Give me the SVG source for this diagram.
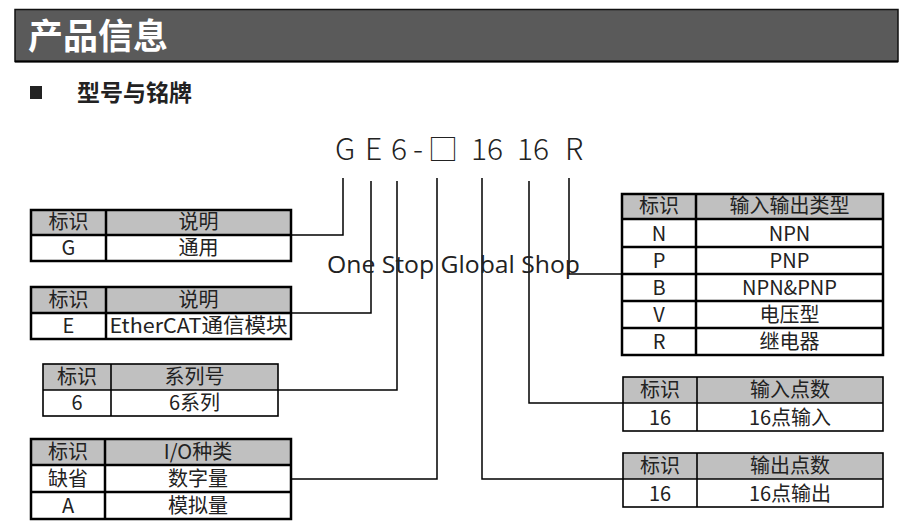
<svg xmlns="http://www.w3.org/2000/svg" width="909" height="526" viewBox="0 0 909 526">
<style>
.t{font-family:"Noto Sans CJK SC","Noto Sans",sans-serif;font-size:20px;fill:#222;text-anchor:middle}
.hd{fill:#c0c0c0}
.bd{fill:#fff}
.thick{fill:none;stroke:#000;stroke-width:2.5}
.thin{fill:none;stroke:#000;stroke-width:1.6}
.conn{fill:none;stroke:#000;stroke-width:1.5}
.model{font-family:"Noto Sans CJK SC","Noto Sans",sans-serif;font-size:30px;fill:#222;font-weight:300}
</style>
<rect width="909" height="526" fill="#fff"/>
<g id="title">
<rect x="15" y="9.5" width="883" height="52" fill="#5a5a5a" stroke="#111" stroke-width="1.5"/>
<line x1="15" y1="61.5" x2="898" y2="61.5" stroke="#000" stroke-width="2"/>
<text x="28" y="49" font-family="Noto Sans CJK SC,sans-serif" font-size="35" font-weight="bold" fill="#fff">产品信息</text>
</g>
<g id="subtitle">
<rect x="30" y="86" width="12" height="13" fill="#222"/>
<text x="77" y="101" font-family="Noto Sans CJK SC,sans-serif" font-size="23" font-weight="bold" fill="#222">型号与铭牌</text>
</g>
<g id="model">
<text class="model" y="160"><tspan x="335">G</tspan><tspan x="365">E</tspan><tspan x="391">6</tspan><tspan x="413">-</tspan><tspan x="428">□</tspan><tspan x="471">16</tspan><tspan x="517">16</tspan><tspan x="565">R</tspan></text>
</g>
<g id="connectors">
<polyline class="conn" points="343,178 343,235 291,235"/>
<polyline class="conn" points="371,181 371,313 291,313"/>
<polyline class="conn" points="397,181 397,390 278,390"/>
<polyline class="conn" points="437,178 437,479 291,479"/>
<polyline class="conn" points="482,178 482,479 623,479"/>
<polyline class="conn" points="529,181 529,403 623,403"/>
<polyline class="conn" points="569,178 569,274 622,274"/>
</g>
<g id="table-g">
<rect class="hd" x="31" y="210" width="260" height="25"/>
<rect class="bd" x="31" y="235" width="260" height="26"/>
<rect class="thick" x="31" y="210" width="260" height="51"/>
<line class="thick" x1="31" y1="235" x2="291" y2="235"/>
<line class="thick" x1="106" y1="210" x2="106" y2="261"/>
<text class="t" x="68.5" y="229">标识</text><text class="t" x="198.5" y="229">说明</text>
<text class="t" x="68.5" y="255">G</text><text class="t" x="198.5" y="255">通用</text>
</g>
<g id="table-e">
<rect class="hd" x="31" y="287" width="260" height="26"/>
<rect class="bd" x="31" y="313" width="260" height="26"/>
<rect class="thick" x="31" y="287" width="260" height="52"/>
<line class="thick" x1="31" y1="313" x2="291" y2="313"/>
<line class="thick" x1="106" y1="287" x2="106" y2="339"/>
<text class="t" x="68.5" y="307">标识</text><text class="t" x="198.5" y="307">说明</text>
<text class="t" x="68.5" y="333">E</text><text class="t" x="198.5" y="333" textLength="178" lengthAdjust="spacingAndGlyphs">EtherCAT通信模块</text>
</g>
<g id="table-6">
<rect class="hd" x="43" y="364" width="235" height="26"/>
<rect class="bd" x="43" y="390" width="235" height="26"/>
<rect class="thin" x="43" y="364" width="235" height="52"/>
<line class="thin" x1="43" y1="390" x2="278" y2="390"/>
<line class="thin" x1="111" y1="364" x2="111" y2="416"/>
<text class="t" x="77" y="384">标识</text><text class="t" x="194.5" y="384">系列号</text>
<text class="t" x="77" y="410">6</text><text class="t" x="194.5" y="410">6系列</text>
</g>
<g id="table-io">
<rect class="hd" x="31" y="439" width="260" height="26"/>
<rect class="bd" x="31" y="465" width="260" height="54"/>
<rect class="thick" x="31" y="439" width="260" height="80"/>
<line class="thick" x1="31" y1="465" x2="291" y2="465"/>
<line class="thick" x1="31" y1="492" x2="291" y2="492"/>
<line class="thick" x1="105" y1="439" x2="105" y2="519"/>
<text class="t" x="68" y="459">标识</text><text class="t" x="198" y="459">I/O种类</text>
<text class="t" x="68" y="486">缺省</text><text class="t" x="198" y="486">数字量</text>
<text class="t" x="68" y="513">A</text><text class="t" x="198" y="513">模拟量</text>
</g>
<g id="table-r">
<rect class="hd" x="622" y="194" width="261" height="25"/>
<rect class="bd" x="622" y="219" width="261" height="136"/>
<rect class="thick" x="622" y="194" width="261" height="161"/>
<line class="thick" x1="622" y1="219" x2="883" y2="219"/>
<line class="thick" x1="622" y1="247" x2="883" y2="247"/>
<line class="thick" x1="622" y1="274" x2="883" y2="274"/>
<line class="thick" x1="622" y1="301" x2="883" y2="301"/>
<line class="thick" x1="622" y1="328" x2="883" y2="328"/>
<line class="thick" x1="696" y1="194" x2="696" y2="355"/>
<text class="t" x="659" y="213">标识</text><text class="t" x="789.5" y="213">输入输出类型</text>
<text class="t" x="659" y="241">N</text><text class="t" x="789.5" y="241">NPN</text>
<text class="t" x="659" y="268">P</text><text class="t" x="789.5" y="268">PNP</text>
<text class="t" x="659" y="295">B</text><text class="t" x="789.5" y="295">NPN&amp;PNP</text>
<text class="t" x="659" y="322">V</text><text class="t" x="789.5" y="322">电压型</text>
<text class="t" x="659" y="349">R</text><text class="t" x="789.5" y="349">继电器</text>
</g>
<g id="table-in">
<rect class="hd" x="623" y="377" width="260" height="26"/>
<rect class="bd" x="623" y="403" width="260" height="28"/>
<rect class="thin" x="623" y="377" width="260" height="54"/>
<line class="thin" x1="623" y1="403" x2="883" y2="403"/>
<line class="thin" x1="697" y1="377" x2="697" y2="431"/>
<text class="t" x="660" y="397">标识</text><text class="t" x="790" y="397">输入点数</text>
<text class="t" x="660" y="425">16</text><text class="t" x="790" y="425">16点输入</text>
</g>
<g id="table-out">
<rect class="hd" x="623" y="453" width="260" height="26"/>
<rect class="bd" x="623" y="479" width="260" height="28"/>
<rect class="thin" x="623" y="453" width="260" height="54"/>
<line class="thin" x1="623" y1="479" x2="883" y2="479"/>
<line class="thin" x1="697" y1="453" x2="697" y2="507"/>
<text class="t" x="660" y="473">标识</text><text class="t" x="790" y="473">输出点数</text>
<text class="t" x="660" y="501">16</text><text class="t" x="790" y="501">16点输出</text>
</g>
<g id="watermark">
<text x="327" y="273" font-family="Open Sans,sans-serif" font-size="24.5" fill="#222" textLength="253" lengthAdjust="spacingAndGlyphs">One Stop Global Shop</text>
</g>
</svg>
